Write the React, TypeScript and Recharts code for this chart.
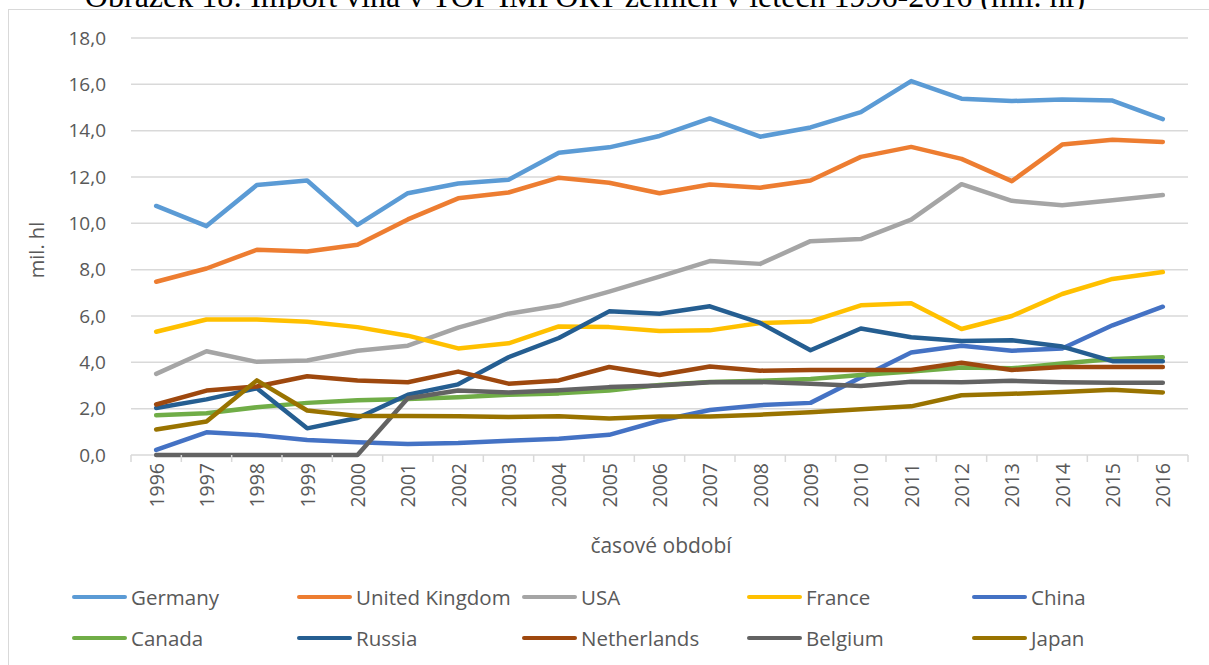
import React from 'react';
import { LineChart, Line, XAxis, YAxis, CartesianGrid } from 'recharts';

// import of wine, mil. hl
const years = [
  '1996', '1997', '1998', '1999', '2000', '2001', '2002', '2003', '2004', '2005', '2006',
  '2007', '2008', '2009', '2010', '2011', '2012', '2013', '2014', '2015', '2016',
];

const germany = [10.75, 9.88, 11.65, 11.85, 9.93, 11.3, 11.72, 11.88, 13.05, 13.28, 13.77, 14.53, 13.74, 14.14, 14.8, 16.14, 15.38, 15.28, 15.35, 15.3, 14.5];
const unitedKingdom = [7.48, 8.05, 8.86, 8.78, 9.08, 10.17, 11.08, 11.33, 11.97, 11.75, 11.3, 11.68, 11.54, 11.85, 12.87, 13.3, 12.78, 11.82, 13.4, 13.61, 13.51];
const usa = [3.5, 4.48, 4.02, 4.08, 4.5, 4.72, 5.5, 6.1, 6.45, 7.05, 7.7, 8.37, 8.25, 9.23, 9.32, 10.16, 11.69, 10.97, 10.78, 11.0, 11.22];
const france = [5.32, 5.85, 5.85, 5.75, 5.52, 5.15, 4.6, 4.82, 5.55, 5.52, 5.35, 5.38, 5.7, 5.76, 6.46, 6.55, 5.44, 6.0, 6.95, 7.6, 7.9];
const china = [0.22, 0.98, 0.86, 0.65, 0.55, 0.48, 0.52, 0.62, 0.7, 0.87, 1.48, 1.94, 2.15, 2.25, 3.35, 4.42, 4.72, 4.5, 4.6, 5.6, 6.4];
const canada = [1.72, 1.8, 2.06, 2.25, 2.36, 2.42, 2.49, 2.6, 2.66, 2.78, 3.02, 3.15, 3.2, 3.28, 3.45, 3.6, 3.78, 3.74, 3.95, 4.14, 4.22];
const russia = [2.03, 2.4, 2.88, 1.15, 1.6, 2.6, 3.05, 4.22, 5.05, 6.2, 6.1, 6.42, 5.7, 4.52, 5.46, 5.08, 4.92, 4.95, 4.68, 4.05, 4.05];
const netherlands = [2.18, 2.78, 2.96, 3.4, 3.22, 3.14, 3.6, 3.08, 3.22, 3.8, 3.45, 3.82, 3.64, 3.67, 3.67, 3.67, 3.98, 3.67, 3.8, 3.8, 3.8];
const belgium = [0, 0, 0, 0, 0, 2.45, 2.78, 2.7, 2.8, 2.93, 3.0, 3.14, 3.15, 3.08, 2.98, 3.16, 3.14, 3.2, 3.14, 3.12, 3.12];
const japan = [1.1, 1.45, 3.22, 1.92, 1.68, 1.68, 1.67, 1.64, 1.67, 1.58, 1.66, 1.66, 1.74, 1.85, 1.98, 2.1, 2.58, 2.64, 2.72, 2.82, 2.7];

const yTicks = [0, 2, 4, 6, 8, 10, 12, 14, 16, 18];

const series = [
  { key: 'germany', name: 'Germany', color: '#5B9BD5', values: germany },
  { key: 'uk', name: 'United Kingdom', color: '#ED7D31', values: unitedKingdom },
  { key: 'usa', name: 'USA', color: '#A5A5A5', values: usa },
  { key: 'france', name: 'France', color: '#FFC000', values: france },
  { key: 'china', name: 'China', color: '#4472C4', values: china },
  { key: 'canada', name: 'Canada', color: '#70AD47', values: canada },
  { key: 'russia', name: 'Russia', color: '#255E91', values: russia },
  { key: 'netherlands', name: 'Netherlands', color: '#9E480E', values: netherlands },
  { key: 'belgium', name: 'Belgium', color: '#636363', values: belgium },
  { key: 'japan', name: 'Japan', color: '#997300', values: japan },
];

const data = years.map((year, i) => {
  const row: Record<string, number | string> = { idx: i, year };
  series.forEach((s) => {
    row[s.key] = s.values[i];
  });
  return row;
});

const textColor = '#595959';
const gridColor = '#d9d9d9';

const CHART_W = 1200;
const MARGIN = { top: 28, right: 21, left: 0, bottom: 0 };
const Y_AXIS_W = 122;
// half a category, used for the Excel-like tick marks between years
const HALF_BAND = (CHART_W - MARGIN.right - MARGIN.left - Y_AXIS_W) / years.length / 2;

const YearTick = (props: any) => {
  const { x, y, payload, index } = props;
  const last = index === years.length - 1;
  return (
    <g>
      <line x1={x - HALF_BAND} x2={x - HALF_BAND} y1={y} y2={y + 7} stroke={gridColor} strokeWidth={1.5} />
      {last && (
        <line x1={x + HALF_BAND} x2={x + HALF_BAND} y1={y} y2={y + 7} stroke={gridColor} strokeWidth={1.5} />
      )}
      <text
        transform={`translate(${x},${y + 8}) rotate(-90)`}
        textAnchor="end"
        dominantBaseline="central"
        fill={textColor}
        fontSize={19.5}
      >
        {years[payload.value]}
      </text>
    </g>
  );
};

const App = () => {
  return (
    <div
      style={{
        position: 'absolute',
        left: 0,
        top: 0,
        width: 1209,
        height: 665,
        overflow: 'hidden',
        background: '#fff',
        fontFamily: '"Open Sans", sans-serif',
      }}
    >
      {/* caption, cut off at the top in the original */}
      <div
        style={{
          position: 'absolute',
          left: 0,
          width: 1170,
          top: -20,
          textAlign: 'center',
          fontFamily: '"Liberation Serif", serif',
          fontSize: 32,
          lineHeight: '32px',
          color: '#000',
          whiteSpace: 'nowrap',
        }}
      >
        Obrázek 18: Import vína v TOP IMPORT zemích v letech 1996-2016 (mil. hl)
      </div>

      {/* chart frame */}
      <div
        style={{
          position: 'absolute',
          left: 8,
          top: 9,
          width: 1300,
          height: 700,
          borderLeft: `1.5px solid ${gridColor}`,
          borderTop: `1.5px solid ${gridColor}`,
          background: '#fff',
        }}
      >
        <LineChart width={CHART_W} height={533} data={data} margin={MARGIN}>
          {/* the 0,0 grid line doubles as the axis line, beneath the series */}
          <CartesianGrid vertical={false} stroke={gridColor} strokeWidth={1.5} />
          <XAxis
            type="number"
            dataKey="idx"
            domain={[-0.5, 20.5]}
            ticks={years.map((_, i) => i)}
            interval={0}
            height={88}
            tick={<YearTick />}
            tickSize={0}
            tickMargin={0}
            tickLine={false}
            axisLine={false}
          />
          <YAxis
            type="number"
            domain={[0, 18]}
            ticks={yTicks}
            interval={0}
            width={Y_AXIS_W}
            axisLine={false}
            tickLine={false}
            tickSize={0}
            tickMargin={25}
            tick={{ fill: textColor, fontSize: 19 }}
            tickFormatter={(v: number) => v.toFixed(1).replace('.', ',')}
          />
          {series.map((s) => (
            <Line
              key={s.key}
              type="linear"
              dataKey={s.key}
              name={s.name}
              stroke={s.color}
              strokeWidth={4.5}
              strokeLinecap="round"
              strokeLinejoin="round"
              dot={false}
              activeDot={false}
              isAnimationActive={false}
            />
          ))}
        </LineChart>
      </div>

      {/* axis titles */}
      <div
        style={{
          position: 'absolute',
          left: 36,
          top: 250,
          transform: 'translate(-50%, -50%) rotate(-90deg)',
          fontSize: 20,
          color: textColor,
          whiteSpace: 'nowrap',
        }}
      >
        mil. hl
      </div>
      <div
        style={{
          position: 'absolute',
          left: 661,
          top: 545,
          transform: 'translate(-50%, -50%)',
          fontSize: 21,
          color: textColor,
          whiteSpace: 'nowrap',
        }}
      >
        časové období
      </div>

      {/* legend */}
      {series.map((s, i) => {
        const col = i % 5;
        const row = Math.floor(i / 5);
        return (
          <div
            key={s.key}
            style={{
              position: 'absolute',
              left: 72 + col * 225,
              top: 597 + row * 41,
              transform: 'translateY(-50%)',
              display: 'flex',
              alignItems: 'center',
              whiteSpace: 'nowrap',
            }}
          >
            <div
              style={{
                width: 55,
                height: 4.5,
                borderRadius: 3,
                background: s.color,
                marginRight: 4,
              }}
            />
            <span style={{ fontSize: 20.5, color: textColor }}>{s.name}</span>
          </div>
        );
      })}
    </div>
  );
};

export default App;
